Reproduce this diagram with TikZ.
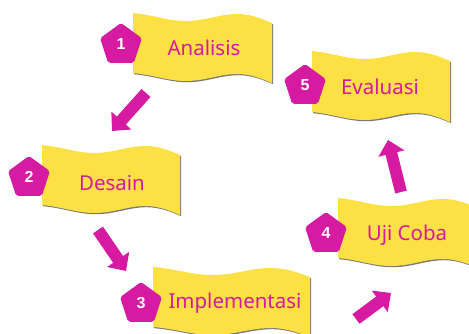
\documentclass[tikz,border=0pt]{standalone}
\usepackage{fontspec}
\setmainfont{Noto Sans}
\newfontfamily\numfont{Liberation Sans}
\usetikzlibrary{shapes.geometric,arrows.meta}

\definecolor{flagyellow}{RGB}{253,224,68}
\definecolor{flagshade}{RGB}{120,120,120}
\definecolor{stepmagenta}{RGB}{214,26,162}

\begin{document}
\begin{tikzpicture}[x=1pt,y=-1pt,
    steptext/.style={text=stepmagenta,font=\fontsize{20.5}{24}\selectfont},
    num/.style={regular polygon,regular polygon sides=5,fill=stepmagenta,
        minimum size=44pt,inner sep=0pt,rounded corners=2pt,
        text=white,font=\numfont\bfseries\fontsize{16}{18}\selectfont},
    flow/.style={stepmagenta,line width=12pt,-{Triangle[length=14pt,width=26pt]}},
    % wavy flag: width / height
    pics/flag/.style n args={2}{code={
        \foreach \dx/\col in {1.2/flagshade,0/flagyellow}
        \fill[\col,shift={(\dx,\dx)}] (0,0)
            .. controls (0.15*#1,2) and (0.25*#1,8) .. (0.38*#1,8)
            .. controls (0.52*#1,8) and (0.62*#1,1) .. (0.75*#1,1)
            .. controls (0.85*#1,1) and (0.93*#1,6) .. (#1,10)
            -- (#1,10+#2)
            .. controls (0.93*#1,6+#2) and (0.85*#1,1+#2) .. (0.75*#1,1+#2)
            .. controls (0.62*#1,1+#2) and (0.52*#1,8+#2) .. (0.38*#1,8+#2)
            .. controls (0.25*#1,8+#2) and (0.15*#1,2+#2) .. (0,#2) -- cycle;
    }}]
    \clip (0,0) rectangle (469,333);

    % flags
    \pic at (133,13) {flag={139}{60}};
    \pic at (42,145) {flag={138}{60}};
    \pic at (153,267) {flag={157}{60}};
    \pic at (338,198) {flag={140}{60}};
    \pic at (312,51) {flag={138}{61}};

    % step names
    \node[steptext] (analisis) at (204,48) {Analisis};
    \node[steptext] (desain) at (112,183) {Desain};
    \node[steptext] (implementasi) at (235,303) {Implementasi};
    \node[steptext] (ujicoba) at (407,235) {Uji Coba};
    \node[steptext] (evaluasi) at (380,87) {Evaluasi};

    % numbers
    \foreach \n/\x/\y in {1/121/45,2/29/178,3/141/304,4/326/234,5/305/86}
    {%
    \node[num] (n\n) at (\x,\y) {\raisebox{2pt}{\n}};
    }%

    % arrows
    \coordinate (a1) at (146,93);  \coordinate (b1) at (112,131);
    \coordinate (a2) at (98,230);  \coordinate (b2) at (126,271);
    \coordinate (a3) at (356,319); \coordinate (b3) at (391,293);
    \coordinate (a4) at (401,192); \coordinate (b4) at (388,140);
    \foreach \i in {1,...,4}
        \draw[flow] (a\i) -- (b\i);
\end{tikzpicture}
\end{document}
